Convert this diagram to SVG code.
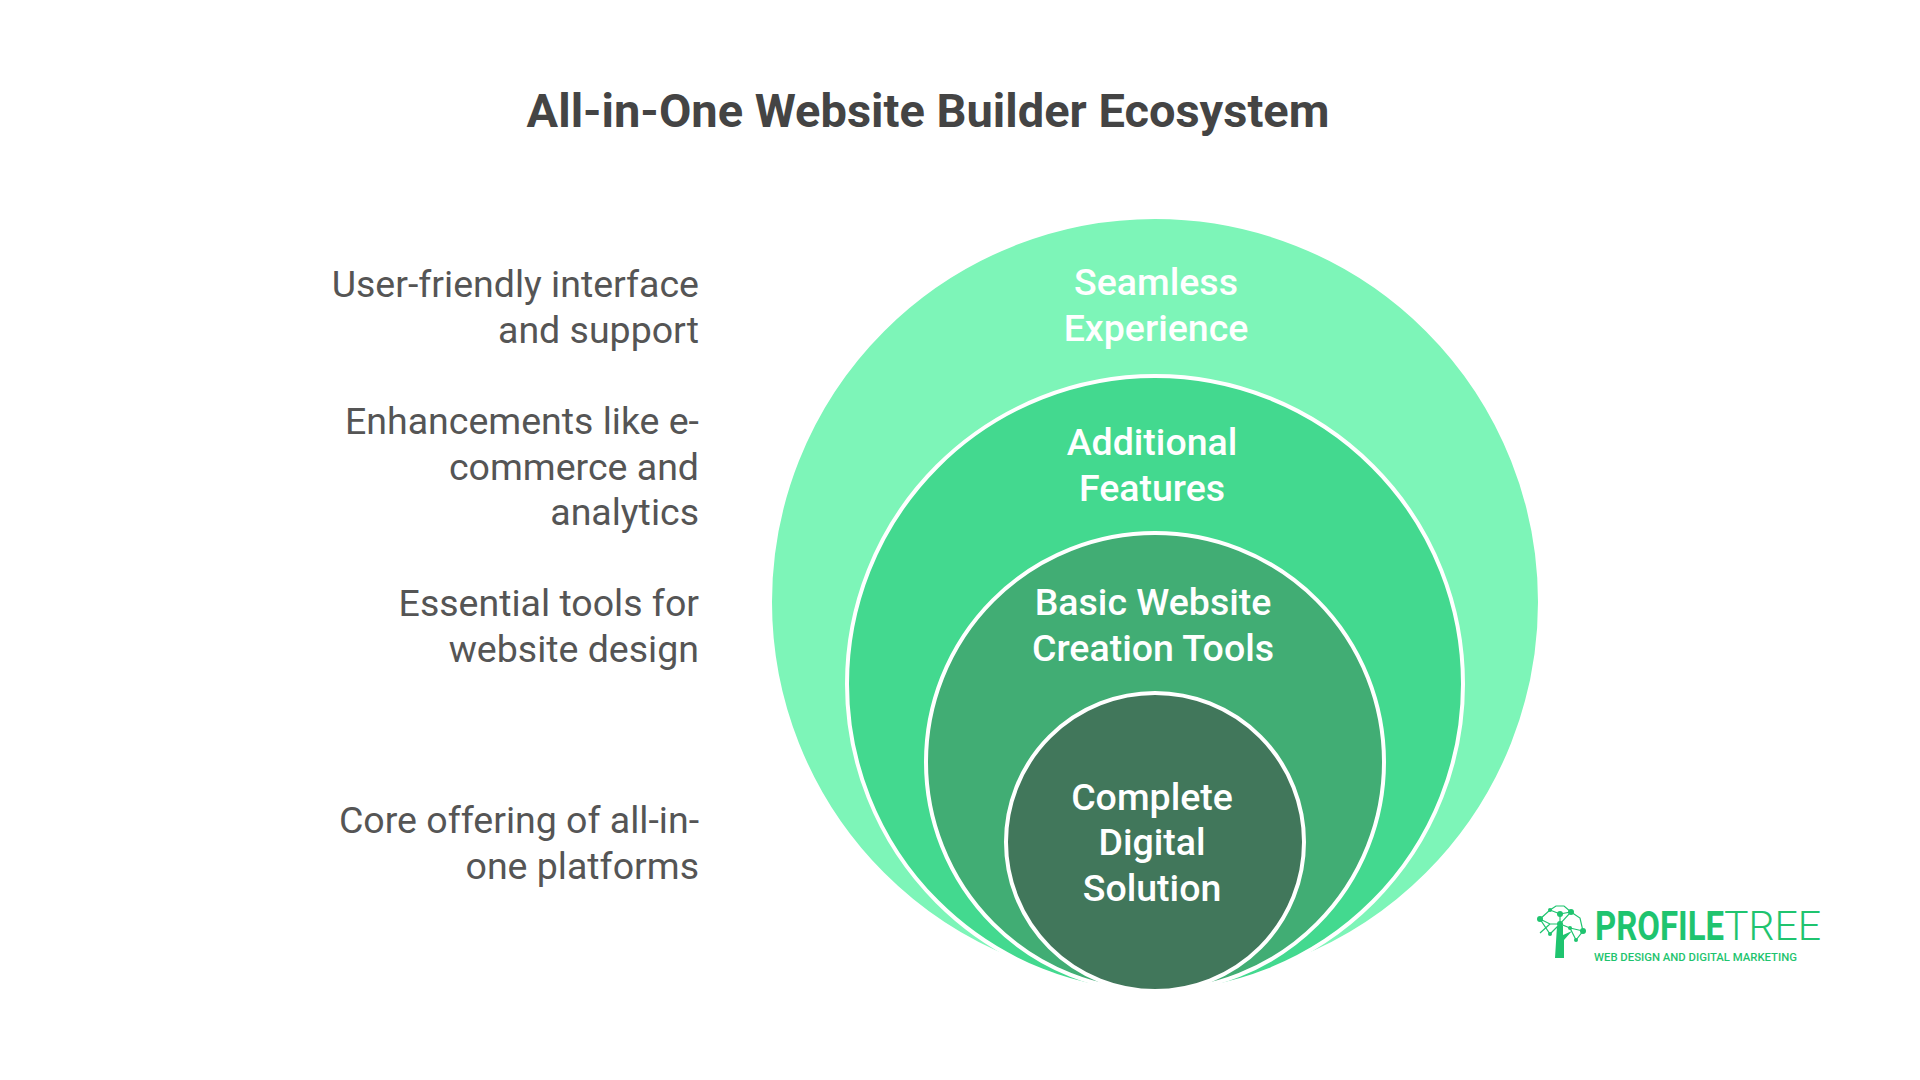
<svg xmlns="http://www.w3.org/2000/svg" width="1920" height="1080" viewBox="0 0 1920 1080">
<style>
.t{font-family:Roboto,"Liberation Sans",sans-serif;}
.c{fill:#fff;font-size:37.5px;font-weight:500;text-anchor:middle}
.l{fill:#555;font-size:37.5px;text-anchor:end}
.ring{stroke:#fff;stroke-width:4}
.g{fill:#1fc46f}
</style>
<rect width="1920" height="1080" fill="#fff"/>
<text class="t" x="928" y="127" font-size="47" font-weight="700" fill="#444" text-anchor="middle">All-in-One Website Builder Ecosystem</text>
<g id="ring1"><circle class="ring" cx="1155" cy="602" r="385" fill="#7df5b8" stroke="none"/>
<text class="t c" x="1156" y="295">Seamless</text><text class="t c" x="1156" y="341">Experience</text></g>
<g id="ring2"><circle class="ring" cx="1155" cy="684" r="308" fill="#43d98f"/>
<text class="t c" x="1152" y="455">Additional</text><text class="t c" x="1152" y="501">Features</text></g>
<g id="ring3"><circle class="ring" cx="1155" cy="762" r="229" fill="#41ad74"/>
<text class="t c" x="1153" y="615">Basic Website</text><text class="t c" x="1153" y="661">Creation Tools</text></g>
<g id="ring4"><circle class="ring" cx="1155" cy="842" r="149" fill="#41775b"/>
<text class="t c" x="1152" y="810">Complete</text><text class="t c" x="1152" y="855">Digital</text><text class="t c" x="1152" y="901">Solution</text></g>
<g id="labels">
<text class="t l" x="699" y="297">User-friendly interface</text><text class="t l" x="699" y="343">and support</text>
<text class="t l" x="699" y="434">Enhancements like e-</text><text class="t l" x="699" y="480">commerce and</text><text class="t l" x="699" y="525">analytics</text>
<text class="t l" x="699" y="616">Essential tools for</text><text class="t l" x="699" y="662">website design</text>
<text class="t l" x="699" y="833">Core offering of all-in-</text><text class="t l" x="699" y="879">one platforms</text>
</g>
<g id="connectors"></g>
<g id="logo">
<g stroke="#1fc46f" stroke-width="1.2" fill="none">
<path d="M1540 919 L1550 910 L1556 906 L1564 906 L1571 912 L1580 918 L1583 931 L1576 940 M1550 910 L1560 914 L1571 912 L1560 924 L1550 924 L1540 919 L1550 934 L1560 924 L1570 928 L1583 931 M1560 914 L1560 924 M1570 928 L1576 940 M1550 924 L1540 933"/>
</g>
<g class="g"><circle cx="1540" cy="919" r="3"/><circle cx="1550" cy="910" r="2"/><circle cx="1560" cy="914" r="3"/><circle cx="1571" cy="912" r="3"/><circle cx="1583" cy="931" r="3"/><circle cx="1560" cy="924" r="3"/><circle cx="1570" cy="928" r="2"/><circle cx="1550" cy="934" r="2"/><circle cx="1576" cy="940" r="2"/></g>
<path class="g" d="M1557 926 L1563 926 L1563 935 L1572 931 L1564 940 L1564 958 L1555 958 Z"/>
<text class="t" x="1595" y="940" font-size="41" fill="#1fc46f"><tspan font-weight="700" textLength="129" lengthAdjust="spacingAndGlyphs">PROFILE</tspan><tspan font-weight="300">TREE</tspan></text>
<text class="t" x="1594" y="961" font-size="10" font-weight="500" fill="#1fc46f" textLength="203" lengthAdjust="spacingAndGlyphs">WEB DESIGN AND DIGITAL MARKETING</text>
</g>
</svg>
